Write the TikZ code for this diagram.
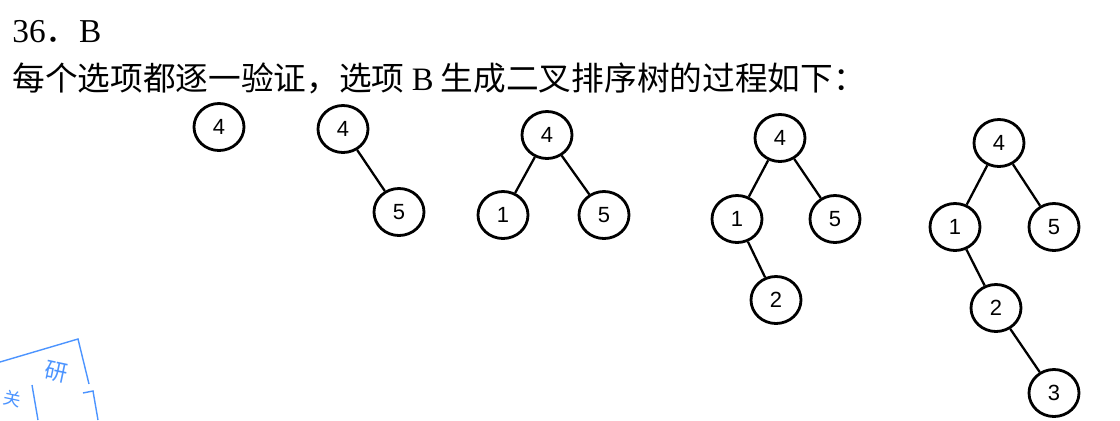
\documentclass[tikz,border=0pt]{standalone}
\usepackage{fontspec}
\setmainfont{Liberation Serif}
\newfontfamily\cjk{Noto Sans CJK SC}
\newfontfamily\digitfont{Liberation Sans}
\usetikzlibrary{shapes.geometric}
\begin{document}
\begin{tikzpicture}[x=0.02cm,y=-0.02cm,
  tnode/.style={draw=black, line width=1.6pt, ellipse, minimum width=50*0.02cm, minimum height=47*0.02cm, inner sep=0pt,
    font=\digitfont\fontsize{12.5pt}{14pt}\selectfont},
  tedge/.style={line width=1.3pt},
  stamp/.style={draw=blue!60!cyan!70, line width=0.8pt},
  stamptext/.style={text=blue!60!cyan!70, inner sep=0pt}]
\useasboundingbox (0,0) rectangle (1120,420);
% header text
\node[anchor=base west, inner sep=0pt, font=\fontsize{19pt}{21pt}\selectfont] (hdr) at (12,42) {36{\cjk ．}B};
\node[anchor=base west, inner sep=0pt, font=\cjk\fontsize{18.6pt}{20pt}\selectfont] (intro) at (12,90) {每个选项都逐一验证，选项 {\rmfamily B} 生成二叉排序树的过程如下：};
% tree 1
\node[tnode] (a4) at (219,127) {4};
% tree 2
\node[tnode] (b4) at (343,129) {4};
\node[tnode] (b5) at (399,212) {5};
\draw[tedge] (b4) -- (b5);
% tree 3
\node[tnode] (c4) at (547,135) {4};
\node[tnode] (c1) at (503,215) {1};
\node[tnode] (c5) at (604,215) {5};
\draw[tedge] (c4) -- (c1);
\draw[tedge] (c4) -- (c5);
% tree 4
\node[tnode] (d4) at (780,138) {4};
\node[tnode] (d1) at (737,219) {1};
\node[tnode] (d5) at (835,219) {5};
\node[tnode] (d2) at (776,300) {2};
\draw[tedge] (d4) -- (d1);
\draw[tedge] (d4) -- (d5);
\draw[tedge] (d1) -- (d2);
% tree 5
\node[tnode] (e4) at (999,143) {4};
\node[tnode] (e1) at (955,227) {1};
\node[tnode] (e5) at (1054,227) {5};
\node[tnode] (e2) at (996,308) {2};
\node[tnode] (e3) at (1054,393) {3};
\draw[tedge] (e4) -- (e1);
\draw[tedge] (e4) -- (e5);
\draw[tedge] (e1) -- (e2);
\draw[tedge] (e2) -- (e3);
% stamp fragment
\draw[stamp] (0,362) -- (78,339) -- (89,384);
\draw[stamp] (83,393) -- (93,391) -- (98,420);
\draw[stamp] (32,385) -- (38,420);
\node[stamptext, font=\cjk\fontsize{13pt}{13pt}\selectfont, rotate=-12] (st1) at (56,372) {研};
\node[stamptext, font=\cjk\fontsize{10pt}{10pt}\selectfont, rotate=-12] (st2) at (12,399) {关};
\end{tikzpicture}
\end{document}
